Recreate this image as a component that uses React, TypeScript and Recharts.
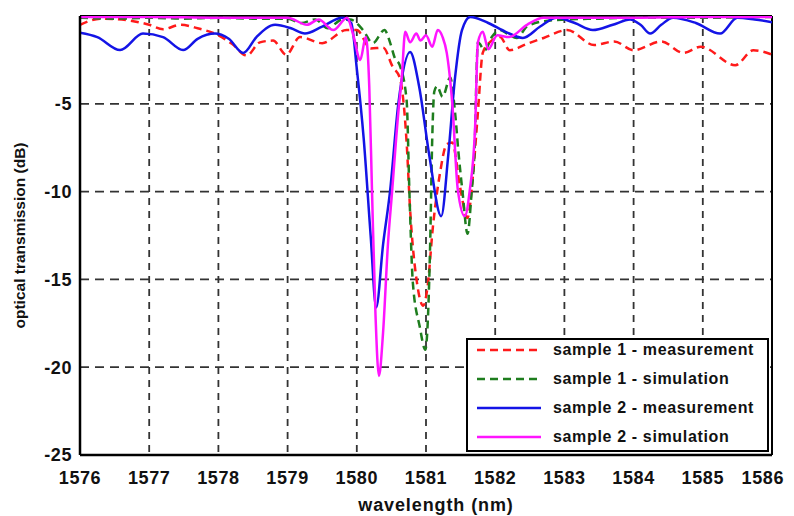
import React from "react";
import {
  LineChart,
  Line,
  XAxis,
  YAxis,
  CartesianGrid,
  ReferenceLine,
  Label,
} from "recharts";

const xTicks = [1576, 1577, 1578, 1579, 1580, 1581, 1582, 1583, 1584, 1585, 1586];
const yTicks = [0, -5, -10, -15, -20, -25];

// sample 1 - measurement (red dashed)
const sample1Measurement: [number, number][] = [
  [1576.0, -0.5], [1576.3, -0.15], [1576.7, -0.25], [1577.0, -0.5], [1577.2, -0.75],
  [1577.45, -0.5], [1577.7, -0.7], [1578.0, -1.1], [1578.2, -1.6], [1578.41, -2.25],
  [1578.6, -1.5], [1578.79, -1.4], [1578.98, -2.2], [1579.18, -1.2], [1579.5, -1.55],
  [1579.85, -0.8], [1580.0, -0.8], [1580.2, -1.85], [1580.38, -1.8], [1580.52, -2.9],
  [1580.62, -3.5], [1580.72, -7.2], [1580.77, -11], [1580.87, -15.2], [1580.96, -16.5],
  [1581.02, -15.5], [1581.1, -12], [1581.2, -9], [1581.3, -7.3], [1581.38, -7.2],
  [1581.49, -9.7], [1581.6, -11.5], [1581.68, -9], [1581.75, -5.5], [1581.82, -2.1],
  [1581.92, -1.5], [1582.07, -1.2], [1582.21, -1.95], [1582.45, -1.6], [1582.7, -1.25],
  [1583.04, -0.8], [1583.43, -1.65], [1583.72, -1.45], [1584.0, -1.95], [1584.4, -1.45],
  [1584.72, -2.1], [1584.97, -1.75], [1585.47, -2.8], [1585.73, -1.95], [1586.0, -2.2],
];

// sample 1 - simulation (green dashed)
const sample1Simulation: [number, number][] = [
  [1576.0, -0.1], [1576.5, -0.15], [1577.0, -0.1], [1577.5, -0.15], [1578.0, -0.1],
  [1578.5, -0.15], [1579.0, -0.15], [1579.2, -0.4], [1579.4, -0.2], [1579.58, -0.7],
  [1579.79, -0.2], [1579.9, -0.2], [1580.09, -0.8], [1580.23, -1.55], [1580.4, -0.8],
  [1580.48, -1.5], [1580.55, -2.4], [1580.62, -2.8], [1580.72, -4.8], [1580.76, -10],
  [1580.81, -15.2], [1580.91, -17.7], [1580.99, -19], [1581.03, -17], [1581.06, -13],
  [1581.09, -7], [1581.12, -4.3], [1581.16, -4.0], [1581.24, -4.6], [1581.35, -3.5],
  [1581.42, -5.5], [1581.47, -7.8], [1581.53, -10.1], [1581.6, -12.4], [1581.66, -10],
  [1581.7, -7.8], [1581.75, -1.5], [1581.85, -1.95], [1581.95, -1.2], [1582.07, -0.8],
  [1582.17, -1.0], [1582.31, -1.25], [1582.46, -0.6], [1582.7, -0.3], [1583.0, -0.2],
  [1583.5, -0.15], [1584.0, -0.1], [1584.5, -0.1], [1585.0, -0.1], [1586.0, -0.05],
];

// sample 2 - measurement (blue solid)
const sample2Measurement: [number, number][] = [
  [1576.0, -0.95], [1576.25, -1.2], [1576.58, -1.94], [1576.91, -1.0], [1577.2, -1.2],
  [1577.49, -1.94], [1577.7, -1.3], [1577.95, -1.0], [1578.15, -1.3], [1578.36, -2.1],
  [1578.55, -1.2], [1578.82, -0.5], [1579.05, -0.7], [1579.25, -1.0], [1579.5, -0.6],
  [1579.79, -0.1], [1579.92, -0.4], [1580.0, -3.0], [1580.1, -7.0], [1580.2, -12.5],
  [1580.28, -16.6], [1580.38, -13], [1580.48, -10], [1580.6, -5], [1580.77, -2.05],
  [1580.9, -4], [1581.05, -8], [1581.22, -11.4], [1581.32, -8], [1581.42, -3.5],
  [1581.52, -0.8], [1581.64, -0.05], [1581.9, -0.4], [1582.15, -0.9], [1582.4, -1.25],
  [1582.65, -0.6], [1582.89, -0.1], [1583.15, -0.4], [1583.41, -0.8], [1583.7, -0.5],
  [1583.95, -0.2], [1584.1, -0.5], [1584.24, -1.0], [1584.4, -0.5], [1584.57, -0.1],
  [1584.9, -0.4], [1585.25, -1.0], [1585.5, -0.1], [1585.75, -0.2], [1586.0, -0.35],
];

// sample 2 - simulation (magenta solid)
const sample2Simulation: [number, number][] = [
  [1576.0, -0.05], [1577.0, -0.05], [1578.0, -0.1], [1579.0, -0.1], [1579.28, -0.5],
  [1579.45, -0.2], [1579.66, -0.8], [1579.86, -0.1], [1579.95, -1.1], [1580.05, -2.5],
  [1580.13, -1.2], [1580.18, -4], [1580.22, -10], [1580.27, -17], [1580.32, -20.5],
  [1580.38, -18], [1580.45, -13], [1580.51, -10], [1580.6, -5.5], [1580.65, -3.5],
  [1580.7, -0.9], [1580.77, -1.5], [1580.86, -1.0], [1580.92, -1.4], [1581.0, -1.1],
  [1581.09, -1.75], [1581.17, -0.8], [1581.24, -1.2], [1581.3, -2.1], [1581.38, -5],
  [1581.46, -9.9], [1581.56, -11.4], [1581.63, -10], [1581.71, -6.3], [1581.75, -1.5],
  [1581.82, -0.9], [1581.9, -1.9], [1582.03, -1.1], [1582.2, -1.2], [1582.46, -0.5],
  [1582.7, -0.1], [1583.0, -0.1], [1584.0, -0.1], [1585.0, -0.05], [1586.0, -0.05],
];

const toRows = (pts: [number, number][]) => pts.map(([x, y]) => ({ x, y }));

const series = [
  { name: "sample 1 - measurement", color: "#ff1a1a", dash: "8 5", data: toRows(sample1Measurement) },
  { name: "sample 1 - simulation", color: "#1e7d1e", dash: "8 5", data: toRows(sample1Simulation) },
  { name: "sample 2 - measurement", color: "#1414e6", dash: undefined, data: toRows(sample2Measurement) },
  { name: "sample 2 - simulation", color: "#ff14ff", dash: undefined, data: toRows(sample2Simulation) },
];

const FONT = "'Liberation Sans', Arial, sans-serif";

const XTick = (props: any) => {
  const { x, y, payload, index } = props;
  const last = index === xTicks.length - 1;
  return (
    <text
      x={x}
      y={y}
      dx={last ? 14 : 0}
      dy={13}
      textAnchor={last ? "end" : "middle"}
      fill="#111"
      fontSize={18}
      fontWeight="bold"
      fontFamily={FONT}
      letterSpacing={0.6}
    >
      {payload.value}
    </text>
  );
};

const LegendBox = () => (
  <div
    style={{
      position: "absolute",
      left: 458,
      top: 330,
      width: 303,
      height: 114,
      boxSizing: "border-box",
      border: "2.5px solid #000",
      background: "#fff",
      fontFamily: FONT,
      fontWeight: "bold",
      fontSize: 16,
      color: "#111",
    }}
  >
    {series.map((s, i) => (
      <div
        key={s.name}
        style={{
          position: "absolute",
          left: 9,
          top: -4.5 + i * 29,
          height: 29,
          display: "flex",
          alignItems: "center",
          whiteSpace: "nowrap",
        }}
      >
        <svg width={64} height={6} style={{ marginRight: 12 }}>
          <line
            x1={0}
            y1={3}
            x2={64}
            y2={3}
            stroke={s.color}
            strokeWidth={2.5}
            strokeDasharray={s.dash}
          />
        </svg>
        <span style={{ letterSpacing: 0.65 }}>{s.name}</span>
      </div>
    ))}
  </div>
);

export default function App() {
  return (
    <div style={{ position: "relative", width: 778, height: 508 }}>
      <LineChart
        width={778}
        height={508}
        margin={{ top: 8, right: 14, bottom: 0, left: 0 }}
        style={{ fontFamily: FONT }}
      >
        <CartesianGrid vertical={false} stroke="#333" strokeWidth={1.8} strokeDasharray="9 6" />
        <CartesianGrid horizontal={false} stroke="#333" strokeWidth={1.8} strokeDasharray="7 6" />
        <XAxis
          dataKey="x"
          type="number"
          domain={[1576, 1586]}
          ticks={xTicks}
          allowDataOverflow
          height={61}
          tickLine={false}
          tickSize={0}
          tickMargin={16}
          axisLine={{ stroke: "#000", strokeWidth: 2.5 }}
          tick={<XTick />}
        >
          <Label
            value="wavelength (nm)"
            position="insideBottom"
            offset={5}
            dx={10}
            style={{ fill: "#111", fontSize: 18, fontWeight: "bold", fontFamily: FONT, letterSpacing: 0.9 }}
          />
        </XAxis>
        <YAxis
          type="number"
          domain={[-25, 0]}
          ticks={yTicks}
          allowDataOverflow
          width={72}
          tickLine={false}
          tickSize={0}
          tickMargin={8}
          axisLine={{ stroke: "#000", strokeWidth: 2.5 }}
          tick={{ fill: "#111", fontSize: 18, fontWeight: "bold", fontFamily: FONT, letterSpacing: 0.6 }}
        >
          <Label
            value="optical transmission (dB)"
            angle={-90}
            position="insideLeft"
            offset={11}
            style={{ textAnchor: "middle", fill: "#111", fontSize: 15.5, fontWeight: "bold", fontFamily: FONT }}
          />
        </YAxis>
        <ReferenceLine y={0} stroke="#000" strokeWidth={2} />
        <ReferenceLine x={1586} stroke="#000" strokeWidth={2} />
        {series.map((s) => (
          <Line
            key={s.name}
            data={s.data}
            dataKey="y"
            name={s.name}
            type="monotone"
            stroke={s.color}
            strokeWidth={2.5}
            strokeDasharray={s.dash}
            dot={false}
            activeDot={false}
            isAnimationActive={false}
          />
        ))}
      </LineChart>
      <LegendBox />
    </div>
  );
}
